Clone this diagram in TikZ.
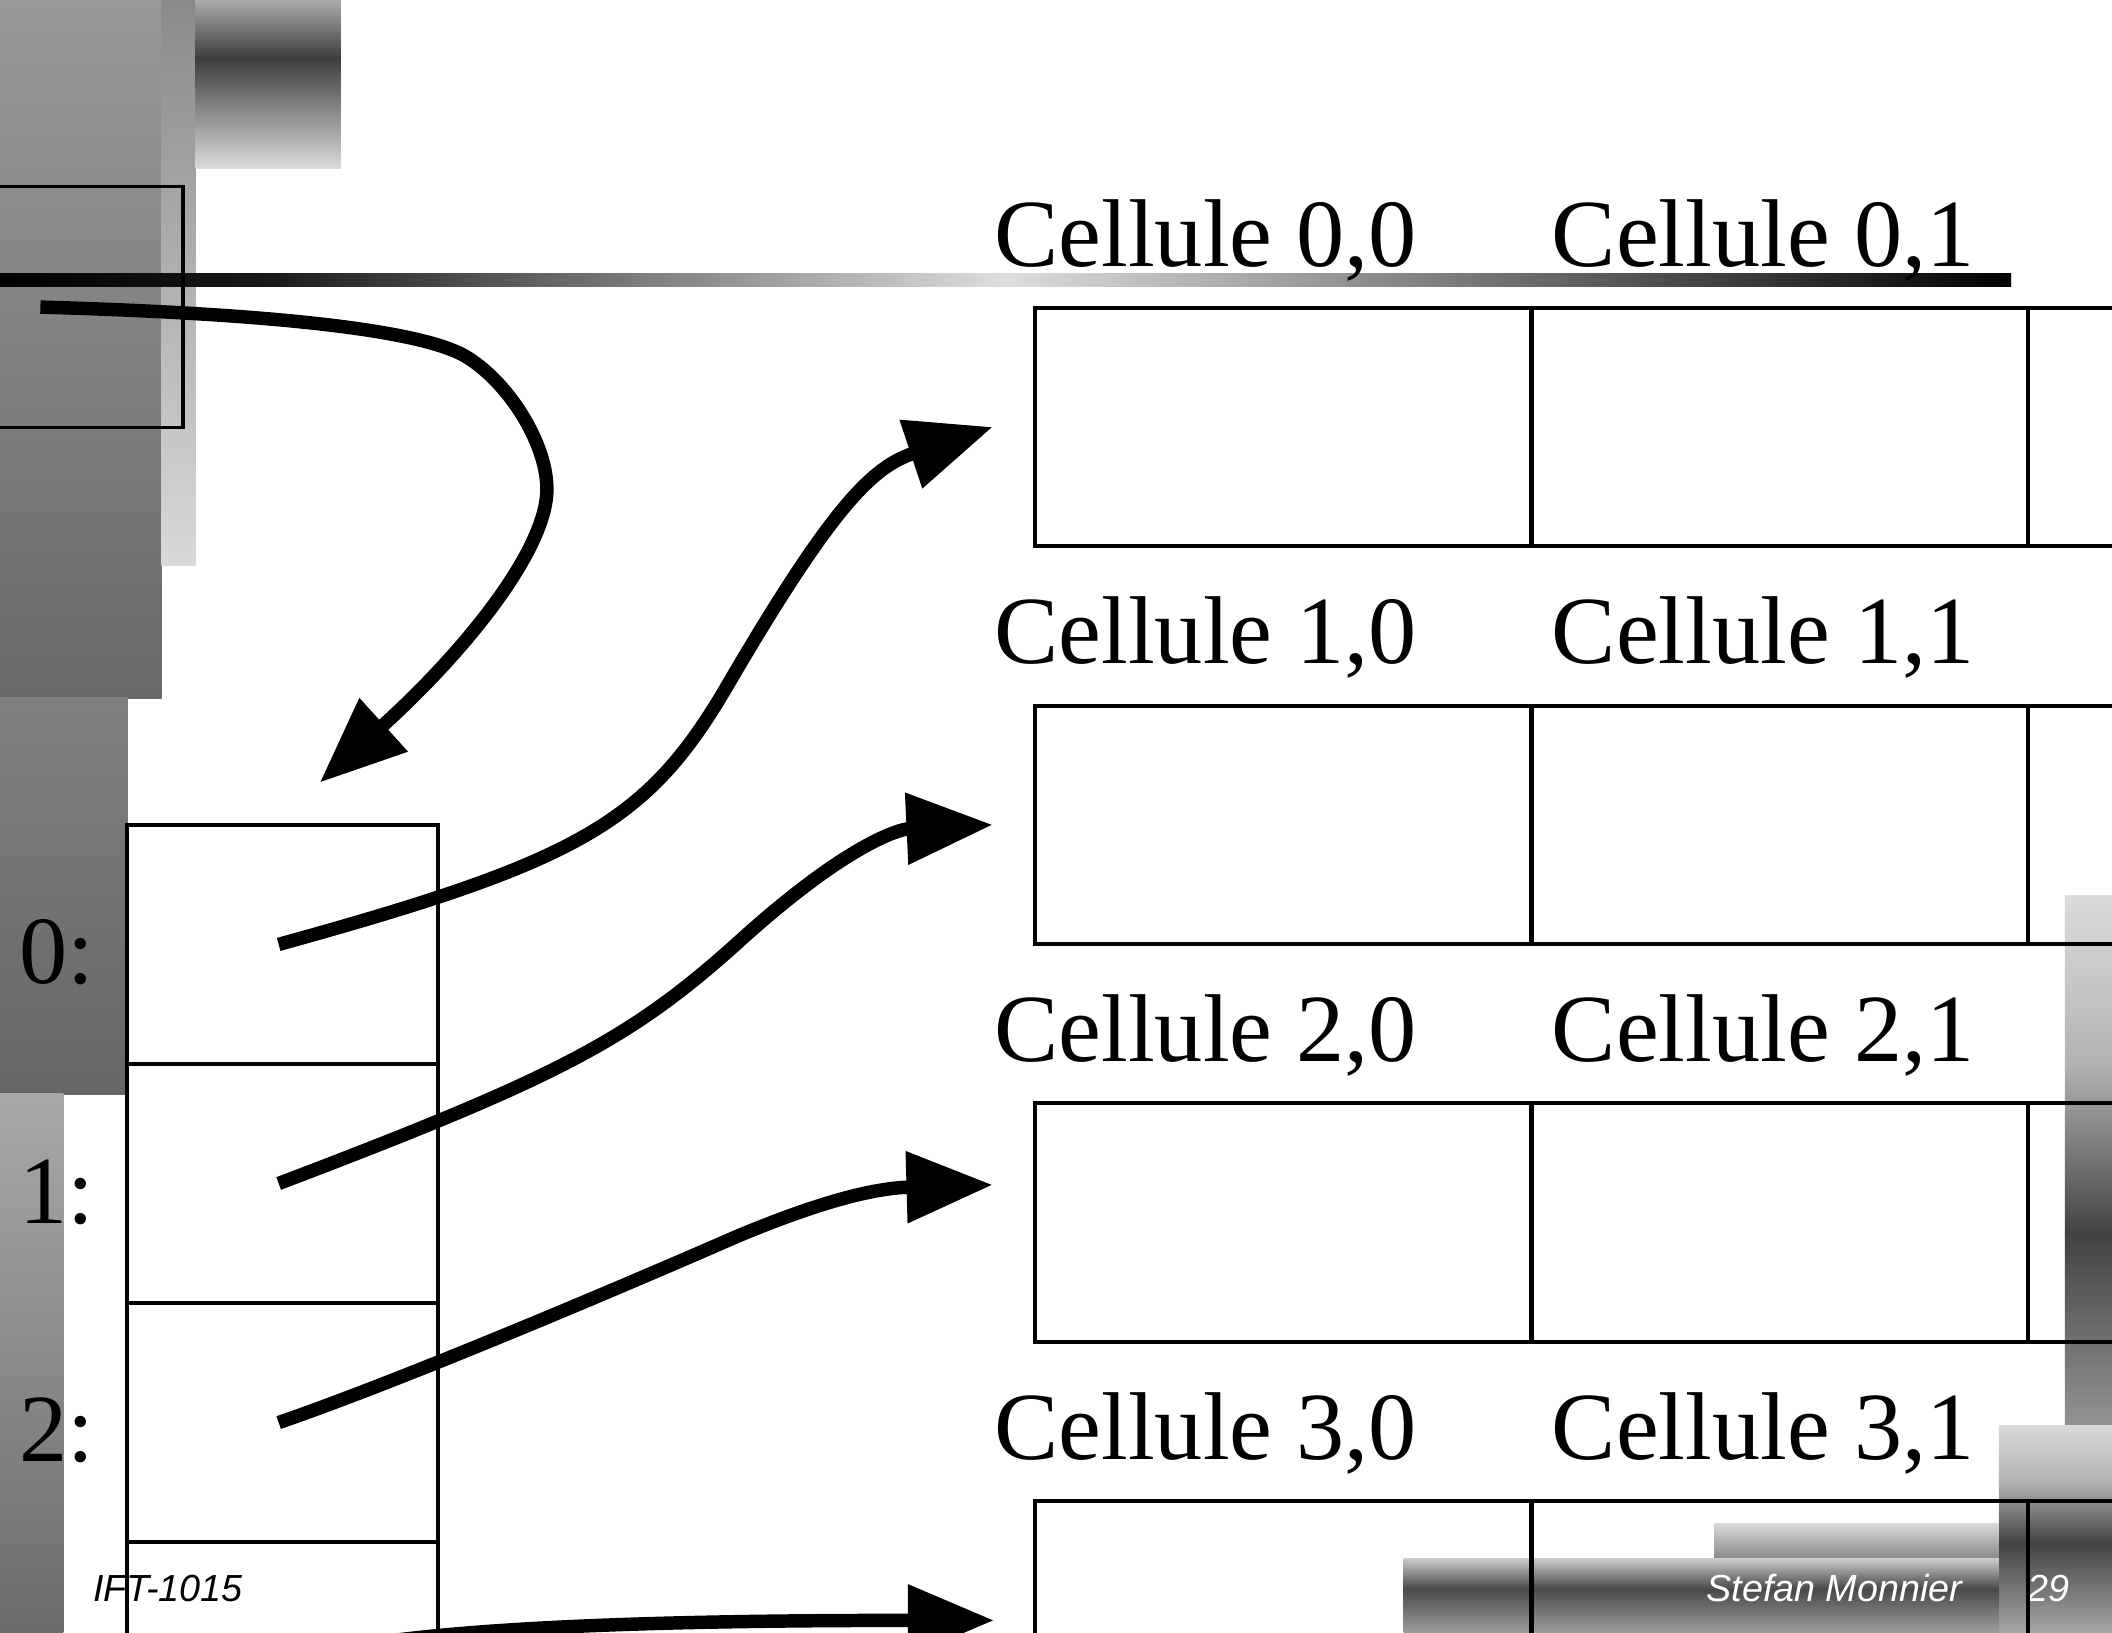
\documentclass[tikz,border=0pt]{standalone}
\usepackage{fontspec}
\setmainfont{Liberation Serif}
\newfontfamily\footfont{Liberation Sans}
\usetikzlibrary{arrows.meta}

\tikzset{
  cellbox/.style={draw, line width=3pt, minimum width=368.5pt, minimum height=177pt,
    inner sep=0pt, anchor=north west},
  slotbox/.style={draw, line width=2.8pt, minimum width=231pt, minimum height=177.5pt,
    inner sep=0pt, anchor=north west},
  bigtext/.style={anchor=base west, inner sep=0pt, font=\fontsize{71.5}{80}\selectfont},
  footer/.style={anchor=base west, inner sep=0pt, font=\footfont\itshape\fontsize{28}{30}\selectfont},
  ptrarrow/.style={line width=10pt, -{Triangle[length=64pt,width=51pt]}},
}

\begin{document}
\begin{tikzpicture}[x=1pt,y=-1pt]
\useasboundingbox (0,0) rectangle (1568,1212);
\clip (0,0) rectangle (1568,1212);

% shaded bands on the left
\shade[top color=black!40, bottom color=black!59] (0,0) rectangle (120,518.5);
\shade[top color=black!46, bottom color=black!15] (120,0) rectangle (145,420);
\shade[top color=black!33, bottom color=black!76] (145,0) rectangle (253,43.5);
\shade[top color=black!76, bottom color=black!14] (145,43) rectangle (253,125);
\shade[top color=black!50, bottom color=black!60] (0,518) rectangle (95,812.5);
\shade[top color=black!34, bottom color=black!58] (0,812) rectangle (47,1212);

% shaded bands at the bottom right
\shade[top color=black!14, bottom color=black!30] (1533,665) rectangle (1568,790.5);
\shade[top color=black!30, bottom color=black!74] (1533,790) rectangle (1568,916.5);
\shade[top color=black!74, bottom color=black!42] (1533,916) rectangle (1568,1058.5);
\shade[top color=black!15, bottom color=black!30] (1484,1058) rectangle (1568,1100.5);
\shade[top color=black!30, bottom color=black!74] (1484,1100) rectangle (1568,1145.5);
\shade[top color=black!74, bottom color=black!35] (1484,1145) rectangle (1568,1212);
\shade[top color=black!15, bottom color=black!47] (1273,1131) rectangle (1484,1157.5);
\shade[top color=black!20, bottom color=black!76] (1042,1157) rectangle (1484,1181.5);
\shade[top color=black!70, bottom color=black!38] (1042,1181) rectangle (1484,1212);

% title rule
\shade[left color=black, right color=black!90] (0,203) rectangle (200.5,213);
\shade[left color=black!90, right color=black!13] (200,203) rectangle (745.5,213);
\shade[left color=black!13, right color=black] (745,203) rectangle (1493,213);

% outlined frame at the top left
\node[draw, line width=2.5pt, minimum width=160pt, minimum height=179pt, inner sep=0pt,
  anchor=north east] (reg) at (137,137) {};

% footer texts
\node[footer] (course) at (69,1189) {IFT-1015};
\node[footer, anchor=base east, text=white] (author) at (1457,1189) {Stefan Monnier};
\node[footer, text=white] (page) at (1505,1189) {29};

% matrix cells and their titles
\foreach \r in {0,1,2,3} {
  \foreach \c in {0,1,2} {
    \node[cellbox] (m\r\c) at ({767+368.5*\c},{227+295.33*\r}) {};
  }
  \foreach \c/\x in {0/738,1/1152,2/1567} {
    \node[bigtext] (t\r\c) at (\x,{197.5+295.33*\r}) {Cellule \r,\c};
  }
}

% array of row pointers
\foreach \i in {0,1,2,3} {
  \node[slotbox] (s\i) at (93,{611+177.5*\i}) {};
}
\node[bigtext] (i0) at (14.5,730) {0:};
\node[bigtext] (i1) at (14.5,908) {1:};
\node[bigtext] (i2) at (14.5,1085) {2:};

% arrow end points
\coordinate (src) at (30,228);
\coordinate (hA) at ([xshift=27.5pt,yshift=30pt]s0.north);
\coordinate (sB) at ([xshift=-3pt]s0.center);
\coordinate (sC) at ([xshift=-3pt]s1.center);
\coordinate (sD) at ([xshift=-3pt]s2.center);
\coordinate (sE) at ([xshift=-3pt]s3.center);
\coordinate (hB) at ([xshift=-30pt]m00.west);
\coordinate (hC) at ([xshift=-30pt]m10.west);
\coordinate (hD) at ([xshift=-30pt,yshift=28pt]m20.west);
\coordinate (hE) at ([xshift=-29pt]m30.west);

% pointers
\draw[ptrarrow] (src) .. controls (210,233) and (318,246) .. (348,266)
  .. controls (379,286) and (405,329) .. (406,361)
  .. controls (408,405) and (348,481) .. (hA);
\draw[ptrarrow] (sB) .. controls (430,639.5) and (480.5,611) .. (540,509)
  .. controls (618,375.5) and (647.75,346.6) .. (hB);
\draw[ptrarrow] (sC) .. controls (416.8,798.8) and (468.7,771.7) .. (552,696)
  .. controls (630,626) and (668,615.5) .. (hC);
\draw[ptrarrow] (sD) .. controls (300,1024) and (460,956) .. (547,918)
  .. controls (613.4,890.2) and (651.6,882) .. (hD);
\draw[ptrarrow] (sE) .. controls (280,1214) and (400,1203) .. (hE);
\end{tikzpicture}
\end{document}
